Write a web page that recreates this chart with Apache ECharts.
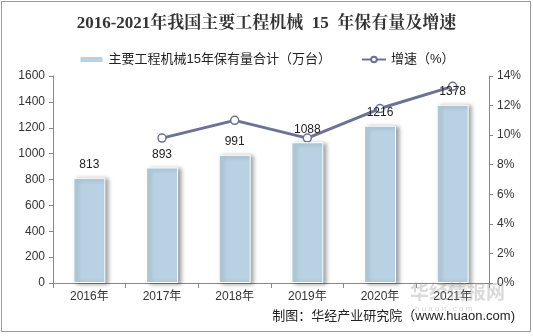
<!DOCTYPE html>
<html><head><meta charset="utf-8">
<script src="https://cdn.jsdelivr.net/npm/echarts@6/dist/echarts.min.js"></script>
<style>html,body{margin:0;padding:0;background:#fff}#c{width:533px;height:336px}</style>
</head><body><div id="c"></div>
<script>
const categories = ['2016年','2017年','2018年','2019年','2020年','2021年'];
const holdings = [813, 893, 991, 1088, 1216, 1378];
const growth = [null, 9.8, 11.0, 9.8, 11.8, 13.3];
const leftTicks = [0, 1600, 200];
const rightTicks = [0, 14, 2];

const chart = echarts.init(document.getElementById('c'));
const font = '"Liberation Sans", Arial, "Noto Sans CJK SC", sans-serif';
chart.setOption({
  animation: false,
  backgroundColor: '#fff',
  title: {
    text: '2016-2021年我国主要工程机械  15  年保有量及增速',
    left: 'center', top: 10,
    textStyle: {fontFamily: '"Liberation Serif","Noto Serif CJK SC","Noto Sans CJK SC",serif', fontSize: 17, fontWeight: 'bold', color: '#333'}
  },
  legend: {
    top: 48, left: 'center', itemGap: 30, itemWidth: 24, itemHeight: 7,
    textStyle: {fontFamily: font, fontSize: 13, color: '#222'},
    data: [
      {name: '主要工程机械15年保有量合计（万台）', icon: 'rect'},
      {name: '增速（%）'}
    ]
  },
  grid: {left: 53, right: 44, top: 76, bottom: 53},
  xAxis: {
    type: 'category', data: categories,
    axisLine: {lineStyle: {color: '#888'}},
    axisTick: {show: true, alignWithLabel: false, lineStyle: {color: '#888'}},
    axisLabel: {fontFamily: font, fontSize: 12, color: '#333', margin: 8}
  },
  yAxis: [
    {type: 'value', min: leftTicks[0], max: leftTicks[1], interval: leftTicks[2],
     axisLine: {show: true, lineStyle: {color: '#888'}},
     axisTick: {show: true, inside: false, length: 4, lineStyle: {color: '#888'}},
     splitLine: {show: false},
     axisLabel: {fontFamily: font, fontSize: 12, color: '#333', margin: 8, formatter: v => String(v)}},
    {type: 'value', min: rightTicks[0], max: rightTicks[1], interval: rightTicks[2],
     axisLine: {show: true, lineStyle: {color: '#888'}},
     axisTick: {show: true, length: 4, lineStyle: {color: '#888'}},
     splitLine: {show: false},
     axisLabel: {fontFamily: font, fontSize: 12, color: '#333', margin: 8, formatter: v => v + '%'}}
  ],
  series: [
    {name: '主要工程机械15年保有量合计（万台）', type: 'bar', data: holdings, barWidth: 32,
     itemStyle: {color: '#b8d2e3', borderColor: '#fff', borderWidth: 1,
       shadowColor: 'rgba(0,0,0,0.35)', shadowBlur: 4, shadowOffsetX: 3, shadowOffsetY: 1},
     label: {show: true, position: 'top', distance: 7, fontFamily: font, fontSize: 12, color: '#222'}},
    {name: '增速（%）', type: 'line', yAxisIndex: 1, data: growth,
     symbol: 'circle', symbolSize: 8, showSymbol: true,
     lineStyle: {color: '#6b7296', width: 3},
     itemStyle: {color: '#fff', borderColor: '#6b7296', borderWidth: 1.5},
     z: 1}
  ],
  graphic: [
    {type: 'rect', shape: {x: 1.5, y: 1.5, width: 529, height: 330}, style: {fill: null, stroke: '#999', lineWidth: 1}, silent: true},
    {type: 'text', right: 18, top: 310, style: {text: '制图：华经产业研究院（www.huaon.com)', fontFamily: font, fontSize: 13, fill: '#222'}},
    {type: 'text', left: 410, top: 282, style: {text: '华经情报网', fontFamily: '"Noto Sans CJK SC",sans-serif', fontSize: 19, fontWeight: 'bold', fill: 'rgba(150,150,150,0.35)'}, z: 100},
    {type: 'text', left: 415, top: 305, style: {text: 'h u a o n . c o m', fontFamily: font, fontSize: 8, fill: 'rgba(150,150,150,0.4)'}, z: 100}
  ]
});
</script></body></html>
